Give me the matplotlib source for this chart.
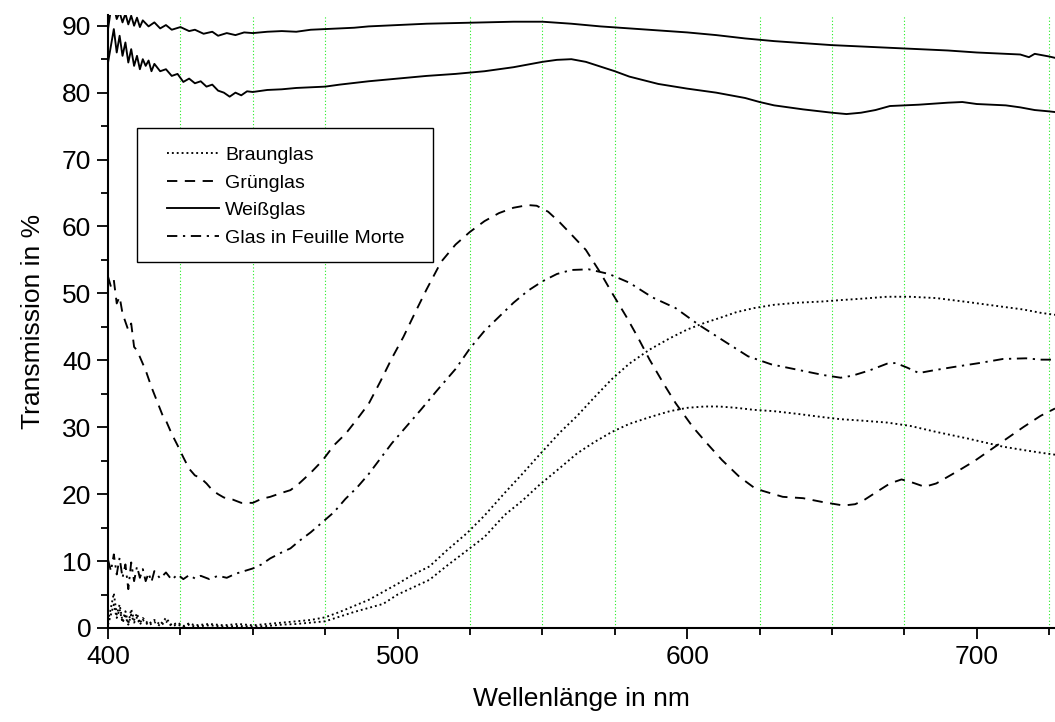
import matplotlib
matplotlib.use("Agg")
import matplotlib.pyplot as plt
from matplotlib.patches import Rectangle
import numpy as np

plt.rcParams['font.family'] = ['Liberation Sans', 'DejaVu Sans']

# Weißglas, upper spectrum (nm, %)
weiss_a_nm = [400, 401, 402, 403, 404, 405, 406, 407, 408, 409, 410, 411, 412, 414, 416, 418, 420, 422,
              425, 428, 430, 433, 436, 438, 441, 444, 447, 450, 455, 460, 465, 470, 475, 480, 485, 490,
              495, 500, 510, 520, 530, 540, 550, 560, 570, 580, 590, 600, 610, 620, 630, 640, 650, 660,
              670, 680, 690, 700, 710, 715, 718, 720, 725, 727]
weiss_a_val = [89.5, 92.5, 93.0, 91.0, 92.0, 90.5, 91.8, 90.2, 91.5, 90.0, 91.2, 89.8, 90.8, 89.9, 90.5,
               89.6, 90.1, 89.4, 89.8, 89.2, 89.4, 88.8, 89.1, 88.5, 88.9, 88.6, 89.0, 88.9, 89.1, 89.2,
               89.1, 89.4, 89.5, 89.6, 89.7, 89.9, 90.0, 90.1, 90.3, 90.4, 90.5, 90.6, 90.6, 90.3, 89.9,
               89.6, 89.3, 89.0, 88.6, 88.1, 87.7, 87.4, 87.1, 86.9, 86.7, 86.5, 86.3, 86.0, 85.8, 85.7,
               85.3, 85.8, 85.4, 85.2]

# Weißglas, lower spectrum
weiss_b_nm = [400, 401, 402, 403, 404, 405, 406, 407, 408, 409, 410, 411, 412, 413, 414, 415, 416, 418,
              420, 422, 424, 426, 428, 430, 432, 434, 436, 438, 440, 442, 444, 446, 448, 450, 455, 460,
              465, 470, 475, 480, 490, 500, 510, 520, 530, 540, 550, 555, 560, 565, 570, 575, 580, 590,
              600, 610, 620, 625, 630, 640, 650, 655, 660, 665, 670, 675, 680, 690, 695, 700, 710, 715,
              720, 725, 727]
weiss_b_val = [84.5, 87.0, 89.5, 86.0, 88.5, 85.5, 87.5, 84.5, 86.5, 84.0, 85.5, 83.5, 85.0, 84.0, 84.8,
               83.2, 84.3, 83.2, 83.5, 82.5, 82.8, 81.6, 82.1, 81.4, 81.7, 80.9, 81.2, 80.3, 80.0, 79.4,
               80.0, 79.6, 80.2, 80.1, 80.4, 80.5, 80.7, 80.8, 80.9, 81.2, 81.7, 82.1, 82.5, 82.8, 83.2,
               83.8, 84.6, 84.9, 85.0, 84.6, 83.9, 83.2, 82.4, 81.3, 80.6, 80.0, 79.2, 78.6, 78.1, 77.5,
               77.0, 76.8, 77.0, 77.4, 78.0, 78.1, 78.2, 78.5, 78.6, 78.3, 78.1, 77.8, 77.4, 77.2, 77.1]

# Grünglas
gruen_nm = [400, 401, 402, 403, 404, 405, 407, 408, 409, 410, 412, 413, 415, 417, 419, 420, 422, 424,
            426, 428, 430, 432, 434, 436, 438, 440, 443, 446, 450, 453, 456, 460, 463, 466, 470, 474,
            478, 482, 486, 490, 494, 498, 502, 506, 510, 515, 520, 525, 530, 535, 540, 545, 548, 552,
            556, 560, 565, 570, 574, 579, 583, 587, 592, 596, 602, 607, 612, 618, 623, 626, 633, 640,
            647, 654, 658, 661, 666, 670, 674, 678, 682, 686, 690, 694, 699, 704, 710, 716, 722, 727]
gruen_val = [52.5, 51.0, 52.0, 48.5, 49.5, 47.0, 44.5, 45.5, 42.0, 41.5, 39.5, 38.5, 36.0, 33.8, 31.6,
             31.0, 29.0, 27.3, 25.5, 23.8, 22.8, 22.4, 21.6, 20.6, 20.0, 19.5, 19.2, 18.7, 18.7, 19.3,
             19.6, 20.2, 20.6, 21.6, 23.2, 25.0, 27.3, 29.0, 31.2, 33.5, 36.8, 40.3, 43.5, 47.1, 50.6,
             54.7, 57.3, 59.2, 60.8, 62.0, 62.8, 63.2, 63.1, 62.2, 60.6, 58.8, 56.5, 53.1, 50.1, 46.5,
             43.4, 40.1, 36.4, 33.6, 30.0, 27.5, 25.1, 22.6, 21.0, 20.5, 19.6, 19.4, 18.8, 18.3, 18.5,
             19.1, 20.5, 21.6, 22.2, 21.7, 21.1, 21.6, 22.6, 23.6, 24.9, 26.4, 28.2, 30.0, 31.7, 32.8]

# Glas in Feuille Morte
morte_nm = [400, 401, 402, 403, 404, 405, 406, 407, 408, 409, 410, 411, 412, 413, 414, 415, 416, 418,
            420, 422, 424, 426, 428, 430, 432, 435, 438, 441, 444, 447, 450, 453, 456, 460, 463, 466,
            470, 474, 478, 482, 486, 490, 494, 498, 503, 508, 514, 520, 525, 530, 535, 540, 545, 550,
            555, 560, 566, 573, 580, 588, 596, 604, 613, 621, 629, 638, 647, 653, 657, 663, 669, 672,
            676, 680, 685, 692, 701, 709, 717, 722, 727]
morte_val = [10.2, 8.5, 11.0, 8.0, 10.5, 7.5, 9.5, 5.8, 9.8, 7.0, 9.2, 7.5, 8.8, 7.0, 8.2, 6.9, 8.5, 7.4,
             8.3, 7.2, 8.0, 7.3, 7.9, 7.4, 7.8, 7.3, 7.8, 7.5, 8.1, 8.5, 8.9, 9.5, 10.4, 11.3, 11.9,
             13.0, 14.3, 15.8, 17.3, 19.3, 21.0, 23.0, 25.3, 27.6, 30.1, 32.6, 35.7, 38.7, 41.8, 44.4,
             46.5, 48.6, 50.4, 51.8, 52.9, 53.5, 53.6, 52.9, 51.6, 49.4, 47.8, 45.3, 42.8, 40.6, 39.4,
             38.6, 37.8, 37.4, 37.7, 38.5, 39.5, 39.6, 38.9, 38.1, 38.5, 39.0, 39.6, 40.2, 40.3, 40.1,
             40.1]

# Braunglas, two samples
braun_nm = [400, 401, 402, 403, 404, 405, 406, 407, 408, 409, 410, 411, 412, 414, 416, 418, 420, 422,
            424, 426, 428, 430, 435, 440, 445, 450, 455, 460, 465, 470, 475, 480, 485, 490, 495, 500,
            505, 511, 517, 524, 530, 537, 543, 549, 556, 562, 568, 574, 580, 587, 594, 600, 606, 611,
            617, 623, 630, 638, 647, 653, 660, 669, 677, 686, 697, 709, 716, 722, 727]
braun_a_val = [1.0, 3.0, 5.2, 2.0, 3.5, 1.0, 2.5, 0.6, 2.8, 1.2, 2.2, 0.7, 1.5, 0.6, 1.2, 0.5, 1.5, 0.4,
               0.8, 0.3, 0.7, 0.4, 0.6, 0.4, 0.6, 0.4, 0.6, 0.8, 1.0, 1.2, 1.6, 2.4, 3.3, 4.2, 5.4, 6.6,
               7.9, 9.2, 11.6, 14.2, 16.8, 20.2, 23.0, 25.9, 29.2, 31.7, 34.5, 37.2, 39.5, 41.6, 43.3,
               44.6, 45.6, 46.3, 47.2, 47.8, 48.3, 48.6, 48.8, 49.0, 49.2, 49.5, 49.5, 49.3, 48.7, 48.0,
               47.6, 47.1, 46.8]
braun_b_val = [0.5, 2.0, 3.5, 1.5, 2.8, 0.8, 1.8, 0.5, 2.0, 0.8, 1.6, 0.5, 1.2, 0.4, 0.9, 0.3, 1.0, 0.3,
               0.5, 0.2, 0.5, 0.2, 0.4, 0.2, 0.3, 0.2, 0.3, 0.5, 0.6, 0.8, 1.0, 1.7, 2.4, 3.0, 3.6, 5.0,
               6.0, 7.2, 9.3, 11.6, 13.6, 16.9, 19.0, 21.4, 23.9, 26.1, 27.8, 29.3, 30.5, 31.5, 32.4,
               32.9, 33.1, 33.1, 32.9, 32.6, 32.4, 32.0, 31.5, 31.2, 31.0, 30.7, 30.2, 29.3, 28.3, 27.1,
               26.6, 26.2, 25.9]

x_major = [400, 500, 600, 700]
y_major = [0, 10, 20, 30, 40, 50, 60, 70, 80, 90]

fig = plt.figure(figsize=(10.55, 7.22), dpi=100)
ax = fig.add_axes([0.1024, 0.1302, 0.8976, 0.849])

dotted = (0, (1.0, 1.6))
dashed = (0, (5.5, 4.0))
dashdot = (0, (5.5, 3.0, 1.2, 3.0))
lw = 1.35

l_braun, = ax.plot(braun_nm, braun_a_val, color='black', lw=lw, linestyle=dotted)
ax.plot(braun_nm, braun_b_val, color='black', lw=lw, linestyle=dotted)
l_gruen, = ax.plot(gruen_nm, gruen_val, color='black', lw=lw, linestyle=dashed)
l_weiss, = ax.plot(weiss_a_nm, weiss_a_val, color='black', lw=lw, linestyle='-')
ax.plot(weiss_b_nm, weiss_b_val, color='black', lw=lw, linestyle='-')
l_morte, = ax.plot(morte_nm, morte_val, color='black', lw=lw, linestyle=dashdot)

ax.set_xlim(400, 727)
ax.set_ylim(0, 91.6)

ax.set_xticks(x_major)
ax.set_xticks(np.arange(425, 727, 25), minor=True)
ax.set_yticks(y_major)
ax.set_yticks(np.arange(5, 91, 10), minor=True)

ax.xaxis.grid(True, which='minor', color='#22ee22', linestyle=(0, (1, 2)), linewidth=0.8)
ax.xaxis.grid(False, which='major')
ax.set_axisbelow(True)

for s in ('top', 'right'):
    ax.spines[s].set_visible(False)
for s in ('left', 'bottom'):
    ax.spines[s].set_linewidth(1.5)

ax.tick_params(which='major', direction='out', length=8, width=1.3, labelsize=19, pad=4)
ax.tick_params(which='minor', direction='out', length=5, width=1.3)

ax.set_xlabel('Wellenlänge in nm', fontsize=19, labelpad=13)
ax.set_ylabel('Transmission in %', fontsize=19, labelpad=12)

# legend frame, drawn as a white box over the grid
ax.add_patch(Rectangle((0.0306, 0.597), 0.3126, 0.2186, transform=ax.transAxes,
                       facecolor='white', edgecolor='black', linewidth=1.0, zorder=4))

leg = ax.legend([l_braun, l_gruen, l_weiss, l_morte],
                ['Braunglas', 'Grünglas', 'Weißglas', 'Glas in Feuille Morte'],
                loc='upper left', bbox_to_anchor=(0.0623, 0.7856), borderaxespad=0,
                borderpad=0, fontsize=14, frameon=False,
                handlelength=2.67, handletextpad=0.31, labelspacing=0.51)
leg.set_zorder(5)

fig.savefig('out.png', dpi=100)
